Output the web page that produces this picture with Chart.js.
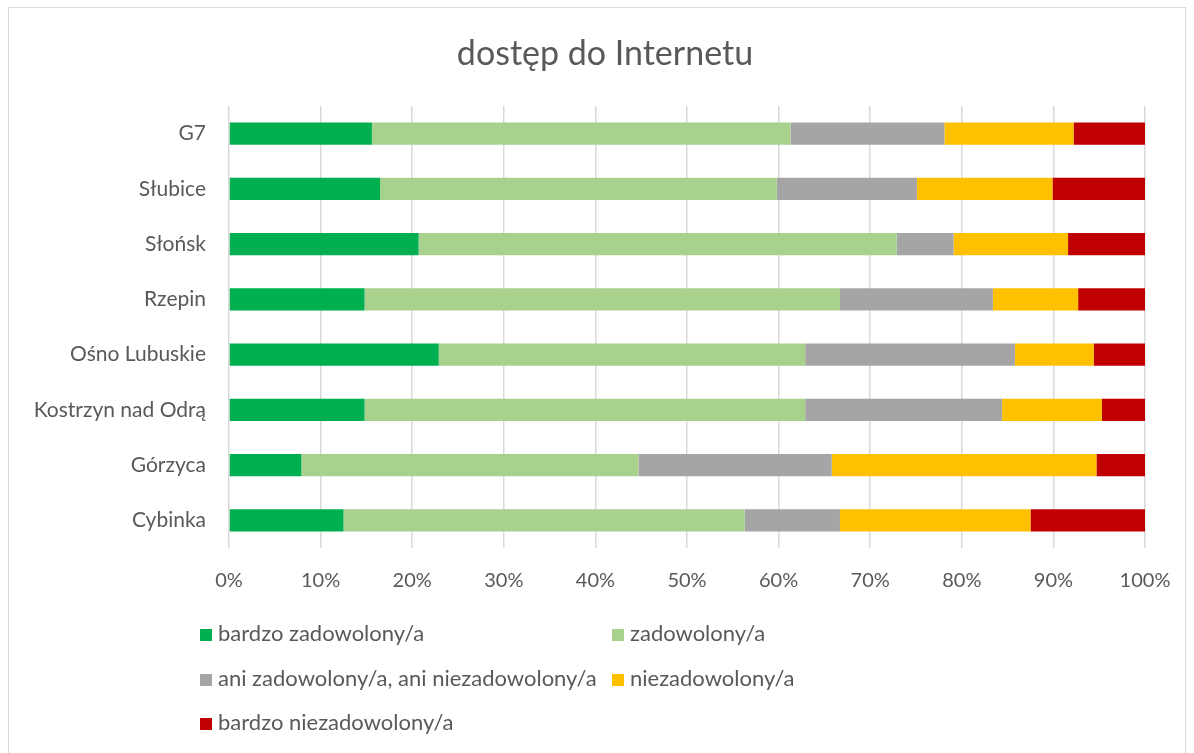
<!DOCTYPE html>
<html>
<head>
<meta charset="utf-8">
<script src="https://cdn.jsdelivr.net/npm/chart.js@4"></script>
<style>
  html, body { margin: 0; padding: 0; background: #fff; }
  #wrap { position: relative; width: 1194px; height: 753px; }
  #frame { position: absolute; left: 8px; top: 7px; width: 1178px; height: 760px; border: 1px solid #d9d9d9; box-sizing: border-box; }
  #chart { position: absolute; left: 0; top: 0; }
  #title { position: absolute; left: 305px; width: 600px; top: 30px; height: 44px; line-height: 44px; text-align: center;
           font-family: Lato, sans-serif; font-size: 34px; color: #595959; }
  #legend { position: absolute; left: 200px; top: 618px; width: 700px; font-family: Lato, sans-serif; font-size: 22px; color: #595959; }
  .item { position: absolute; white-space: nowrap; height: 30px; line-height: 30px; }
  .box { display: inline-block; width: 12px; height: 12px; margin-right: 6px; vertical-align: 0px; }
</style>
</head>
<body>
<div id="wrap">
  <div id="frame"></div>
  <canvas id="chart" width="1194" height="753"></canvas>
  <div id="title">dostęp do Internetu</div>
  <div id="legend"></div>
</div>
<script>
// categories, top to bottom
const places = ['G7', 'Słubice', 'Słońsk', 'Rzepin', 'Ośno Lubuskie', 'Kostrzyn nad Odrą', 'Górzyca', 'Cybinka'];

const seriesNames = [
    'bardzo zadowolony/a',
    'zadowolony/a',
    'ani zadowolony/a, ani niezadowolony/a',
    'niezadowolony/a',
    'bardzo niezadowolony/a'
];

// shares in %, same order as places
const veryHappy   = [15.6, 16.5, 20.7, 14.8, 22.9, 14.8,  7.9, 12.5];
const happy       = [45.7, 43.3, 52.2, 51.9, 40.0, 48.1, 36.8, 43.8];
const neutral     = [16.8, 15.3,  6.2, 16.7, 22.9, 21.5, 21.1, 10.4];
const unhappy     = [14.1, 14.8, 12.5,  9.3,  8.6, 10.9, 28.9, 20.8];
const veryUnhappy = [ 7.8, 10.1,  8.4,  7.3,  5.6,  4.7,  5.3, 12.5];

const xTicks = [0, 10, 20, 30, 40, 50, 60, 70, 80, 90, 100];

const colors = ['#00B050', '#A9D18E', '#A5A5A5', '#FFC000', '#C00000'];
const textColor = '#595959';
const fontFamily = 'Lato, sans-serif';

const values = [veryHappy, happy, neutral, unhappy, veryUnhappy];

const ctx = document.getElementById('chart').getContext('2d');
const chart = new Chart(ctx, {
    type: 'bar',
    data: {
        labels: places,
        datasets: values.map((v, i) => ({
            label: seriesNames[i],
            data: v,
            backgroundColor: colors[i],
            borderWidth: 0,
            barPercentage: 0.4,
            categoryPercentage: 1
        }))
    },
    options: {
        indexAxis: 'y',
        responsive: false,
        animation: false,
        layout: { padding: { left: 0, right: 49, top: 106, bottom: 0 } },
        scales: {
            x: {
                stacked: true,
                min: 0,
                max: 100,
                afterBuildTicks: (axis) => { axis.ticks = xTicks.map(v => ({ value: v })); },
                afterFit: (axis) => { axis.height = 205; },
                grid: { color: '#d9d9d9', lineWidth: 1.5, drawTicks: false },
                border: { display: false },
                ticks: {
                    padding: 21,
                    color: textColor,
                    font: { family: fontFamily, size: 20 },
                    callback: (v) => v + '%'
                }
            },
            y: {
                stacked: true,
                afterFit: (axis) => { axis.width = 229; },
                grid: { display: false, drawTicks: false },
                border: { display: false },
                ticks: {
                    padding: 23,
                    color: textColor,
                    font: { family: fontFamily, size: 21 }
                }
            }
        },
        plugins: {
            legend: { display: false },
            tooltip: { enabled: false },
            title: { display: false }
        }
    }
});

// legend in two columns, like the original
const legendEl = document.getElementById('legend');
const legendPos = [[0, 0], [412, 0], [0, 45], [412, 45], [0, 89]];
chart.data.datasets.forEach((ds, i) => {
    const item = document.createElement('div');
    item.className = 'item';
    item.style.left = legendPos[i][0] + 'px';
    item.style.top = legendPos[i][1] + 'px';
    item.innerHTML = '<span class="box" style="background:' + ds.backgroundColor + '"></span>' + ds.label;
    legendEl.appendChild(item);
});
</script>
</body>
</html>
